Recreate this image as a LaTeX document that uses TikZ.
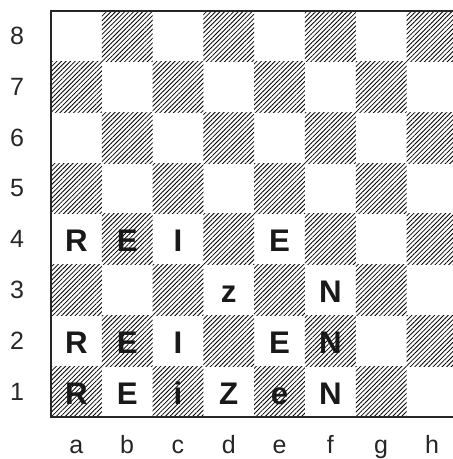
\documentclass[tikz,border=0pt]{standalone}
\usepackage{fontspec}
\setmainfont{Liberation Sans}
\usetikzlibrary{patterns.meta}

\begin{document}
\begin{tikzpicture}[
    hatch/.style={pattern={Lines[angle=45, distance=1.8pt, line width=0.45pt]}, pattern color=black},
    edge/.style={line width=1.2pt, black!85},
    coordlabel/.style={font=\fontsize{14}{16}\selectfont, text=black!85},
    piece/.style={font=\bfseries\fontsize{17.5}{20}\selectfont, anchor=base, text=black!90}
]

    \useasboundingbox (-1.004,-0.827) rectangle (7.913,8.209);

    % hatched squares
    \foreach \i in {0,...,7}
      \foreach \j in {0,...,7} {
        \pgfmathtruncatemacro{\isdark}{mod(\i+\j,2)}
        \ifnum\isdark=0
          \fill[hatch] (\i,\j) rectangle ++(1,1);
        \fi
      }

    % board edge
    \draw[edge] (7.913,8) -- (0,8) -- (0,0) -- (7.913,0);

    % ranks and files
    \foreach \j in {1,...,8}
      \node[coordlabel] (r\j) at (-0.67,\j-0.5) {\j};
    \foreach \f [count=\i from 0] in {a,b,c,d,e,f,g,h}
      \node[coordlabel, anchor=base] (f\f) at (\i+0.5,-0.71) {\f};

    % letters on the board
    \foreach \sq/\x/\y/\t in {a4/0/3/R, b4/1/3/E, c4/2/3/I, e4/4/3/E,
                              d3/3/2/z, f3/5/2/N,
                              a2/0/1/R, b2/1/1/E, c2/2/1/I, e2/4/1/E, f2/5/1/N,
                              a1/0/0/R, b1/1/0/E, c1/2/0/i, d1/3/0/Z, e1/4/0/e, f1/5/0/N}
      \node[piece] (\sq) at (\x+0.5,\y+0.25) {\t};

\end{tikzpicture}
\end{document}
